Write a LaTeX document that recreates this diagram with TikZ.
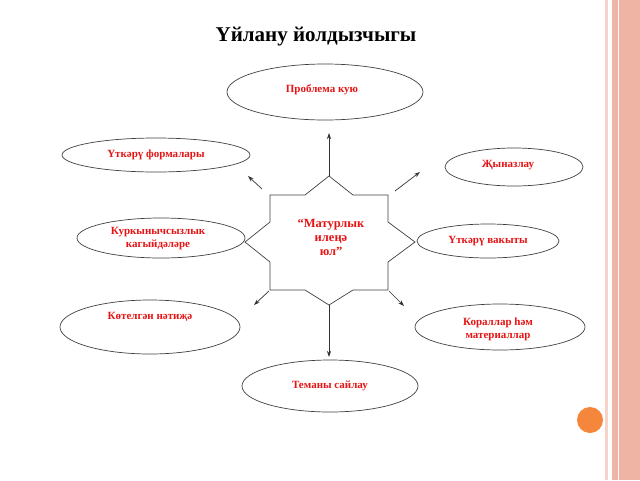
\documentclass[tikz,border=0pt]{standalone}
\usepackage{fontspec}
\setmainfont{Liberation Serif}
\usetikzlibrary{arrows.meta}
\definecolor{txtred}{RGB}{230,20,20}
\definecolor{bord}{RGB}{240,180,165}
\definecolor{orng}{RGB}{245,135,60}
\begin{document}
\begin{tikzpicture}[x=1pt,y=-1pt,
  ell/.style={draw=black!75,line width=0.7pt},
  lab/.style={text=txtred,font=\bfseries\fontsize{11}{13}\selectfont,align=center},
  arr/.style={-{Stealth[length=6pt,width=4pt]},black!80,line width=0.7pt}]
\useasboundingbox (0,0) rectangle (640,480);
\fill[white] (0,0) rectangle (640,480);
\fill[bord] (612,0) rectangle (640,480);
\fill[bord!60] (605,0) rectangle (608,480);
\draw[white,line width=1pt] (618,0) -- (618,480);
\fill[orng] (590,420) circle (13);
\node[font=\bfseries\fontsize{21}{24}\selectfont] (title) at (316,37) {Үйлану йолдызчыгы};
\draw[black!75,line width=0.7pt] (270,195)--(305,195)--(329,176)--(353,195)--(388,195)--(388,222)--(415,242)--(388,262)--(388,290)--(353,290)--(329,305)--(305,290)--(270,290)--(270,262)--(245,242)--(270,222)--cycle;
\node[lab,font=\bfseries\fontsize{12.5}{14}\selectfont] (c) at (331,237) {“Матурлык\\илеңә\\юл”};
\coordinate (sT) at (329,176); \coordinate (sB) at (329,305);
\coordinate (sTL) at (262,189); \coordinate (sTR) at (395,191);
\coordinate (sBL) at (269,291); \coordinate (sBR) at (389,291);
\draw[ell] (325,92) ellipse (98 and 28); \node[lab] (a1) at (322,90) {Проблема кую};
\draw[ell] (156,155) ellipse (94 and 17); \node[lab] (a2) at (156,155) {Үткәрү формалары};
\draw[ell] (514,167) ellipse (69 and 19); \node[lab] (a3) at (508,165) {Җыназлау};
\draw[ell] (161,238) ellipse (84 and 20); \node[lab] (a4) at (158,239) {Куркынычсызлык\\кагыйдәләре};
\draw[ell] (488,241) ellipse (71 and 17); \node[lab] (a5) at (488,241) {Үткәрү вакыты};
\draw[ell] (150,327) ellipse (90 and 27); \node[lab] (a6) at (150,317) {Көтелгән нәтиҗә};
\draw[ell] (500,327) ellipse (85 and 23); \node[lab] (a7) at (498,329) {Кораллар һәм\\материаллар};
\draw[ell] (330,386) ellipse (88 and 26); \node[lab] (a8) at (330,386) {Теманы сайлау};
\coordinate (eT) at (329,133); \coordinate (eTL) at (248,176); \coordinate (eTR) at (420,172);
\coordinate (eBL) at (254,305); \coordinate (eBR) at (404,306); \coordinate (eB) at (329,357);
\draw[arr] (sT)--(eT); \draw[arr] (sTL)--(eTL); \draw[arr] (sTR)--(eTR);
\draw[arr] (sBL)--(eBL); \draw[arr] (sBR)--(eBR); \draw[arr] (sB)--(eB);
\end{tikzpicture}
\end{document}
